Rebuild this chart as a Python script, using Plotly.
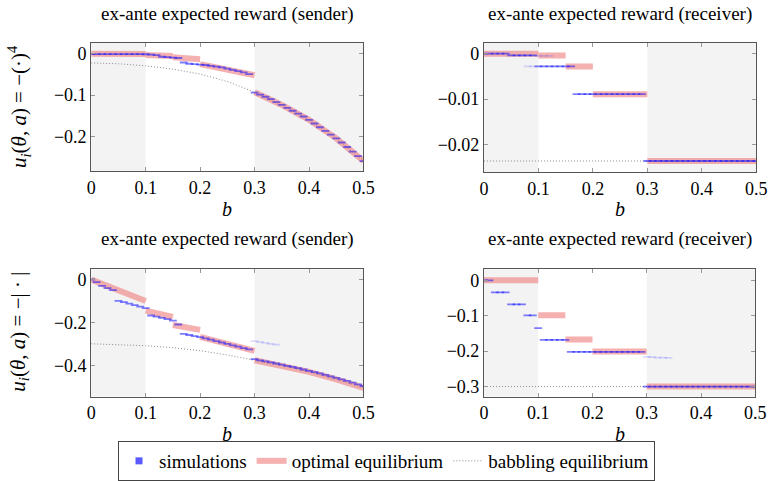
import plotly.graph_objects as go

# ---------------- data ----------------
b_grid = [0.00, 0.01, 0.02, 0.03, 0.04, 0.05, 0.06, 0.07, 0.08, 0.09,
          0.10, 0.11, 0.12, 0.13, 0.14, 0.15, 0.16, 0.17, 0.18, 0.19,
          0.20, 0.21, 0.22, 0.23, 0.24, 0.25, 0.26, 0.27, 0.28, 0.29,
          0.30, 0.31, 0.32, 0.33, 0.34, 0.35, 0.36, 0.37, 0.38, 0.39,
          0.40, 0.41, 0.42, 0.43, 0.44, 0.45, 0.46, 0.47, 0.48, 0.49, 0.50]
b_babble = [0.0, 0.05, 0.1, 0.15, 0.2, 0.25, 0.3, 0.35, 0.4, 0.45, 0.5]
x_ticks = [0, 0.1, 0.2, 0.3, 0.4, 0.5]

tl_sim = [-0.0005, -0.0005, -0.0005, -0.0005, -0.0005, -0.0005, -0.0005, -0.0005, -0.0005, -0.0005,
          -0.001, -0.002, -0.003, -0.007, -0.008, -0.009, -0.010, -0.021, -0.024, -0.025,
          -0.026, -0.027, -0.029, -0.031, -0.033, -0.036, -0.039, -0.042, -0.045, -0.049,
          -0.094, -0.099, -0.104, -0.110, -0.117, -0.124, -0.131, -0.138, -0.145, -0.152,
          -0.160, -0.169, -0.178, -0.187, -0.196, -0.205, -0.215, -0.226, -0.237, -0.248, -0.260]
tl_opt_b = [0, 0.1, None, 0.1, 0.15, None, 0.15, 0.2, None, 0.2, 0.25, 0.3, None, 0.3, 0.35, 0.4, 0.45, 0.5]
tl_opt_v = [0, -0.0005, None, -0.003, -0.005, None, -0.008, -0.013, None, -0.025, -0.037, -0.052, None,
            -0.093, -0.124, -0.160, -0.205, -0.260]
tl_babble = [-0.022, -0.024, -0.029, -0.037, -0.049, -0.067, -0.093, -0.124, -0.160, -0.205, -0.260]
tl_faint_b = []
tl_faint_v = []
tl_yticks = [0, -0.1, -0.2]

tr_sim = [0, 0, 0, 0, 0,
          -0.0004, -0.0004, -0.0004, -0.0004, -0.0004,
          -0.0028, -0.0028, -0.0028, -0.0028, -0.0028, -0.0028, -0.0028,
          -0.0089, -0.0089, -0.0089, -0.0089, -0.0089, -0.0089, -0.0089, -0.0089, -0.0089, -0.0089,
          -0.0089, -0.0089, -0.0089,
          -0.0236, -0.0236, -0.0236, -0.0236, -0.0236, -0.0236, -0.0236, -0.0236, -0.0236, -0.0236,
          -0.0236, -0.0236, -0.0236, -0.0236, -0.0236, -0.0236, -0.0236, -0.0236, -0.0236, -0.0236, -0.0236]
tr_opt_b = [0, 0.1, None, 0.1, 0.15, None, 0.15, 0.2, None, 0.2, 0.3, None, 0.3, 0.5]
tr_opt_v = [0, 0, None, -0.0004, -0.0004, None, -0.0028, -0.0028, None, -0.0089, -0.0089, None, -0.0236, -0.0236]
tr_babble_b = [0, 0.5]
tr_babble = [-0.0236, -0.0236]
tr_faint_b = [0.08, 0.09, 0.10, 0.11, 0.12]
tr_faint_v = [-0.0028, -0.0028, -0.0005, -0.0005, -0.0005]
tr_yticks = [0, -0.01, -0.02]

bl_sim = [0.000, -0.012, -0.030, -0.040, -0.050, -0.100, -0.106, -0.113, -0.120, -0.127,
          -0.134, -0.168, -0.173, -0.179, -0.185, -0.192, -0.210, -0.254, -0.259, -0.264,
          -0.269, -0.275, -0.281, -0.288, -0.294, -0.300, -0.307, -0.313, -0.320, -0.326,
          -0.372, -0.377, -0.382, -0.387, -0.392, -0.397, -0.403, -0.408, -0.414, -0.420,
          -0.426, -0.432, -0.438, -0.445, -0.452, -0.459, -0.466, -0.473, -0.481, -0.489, -0.497]
bl_opt_b = [0, 0.1, None, 0.1, 0.15, None, 0.15, 0.2, None, 0.2, 0.3, None, 0.3, 0.35, 0.4, 0.45, 0.5]
bl_opt_v = [0, -0.100, None, -0.145, -0.175, None, -0.212, -0.235, None, -0.268, -0.333, None,
            -0.377, -0.402, -0.431, -0.466, -0.506]
bl_babble = [-0.300, -0.303, -0.309, -0.318, -0.332, -0.352, -0.377, -0.402, -0.431, -0.466, -0.506]
bl_faint_b = [0.30, 0.31, 0.32, 0.33, 0.34]
bl_faint_v = [-0.288, -0.292, -0.296, -0.300, -0.304]
bl_yticks = [0, -0.2, -0.4]

br_sim = [0, 0, -0.034, -0.034, -0.034, -0.068, -0.068, -0.068, -0.099, -0.099,
          -0.135, -0.168, -0.168, -0.168, -0.168, -0.168,
          -0.202, -0.202, -0.202, -0.202, -0.202, -0.202, -0.202, -0.202, -0.202, -0.202,
          -0.202, -0.202, -0.202, -0.202,
          -0.300, -0.300, -0.300, -0.300, -0.300, -0.300, -0.300, -0.300, -0.300, -0.300,
          -0.300, -0.300, -0.300, -0.300, -0.300, -0.300, -0.300, -0.300, -0.300, -0.300, -0.300]
br_opt_b = [0, 0.1, None, 0.1, 0.15, None, 0.15, 0.2, None, 0.2, 0.3, None, 0.3, 0.5]
br_opt_v = [0, 0, None, -0.099, -0.099, None, -0.167, -0.167, None, -0.201, -0.201, None, -0.300, -0.300]
br_babble_b = [0, 0.5]
br_babble = [-0.300, -0.300]
br_faint_b = [0.30, 0.31, 0.32, 0.33, 0.34]
br_faint_v = [-0.216, -0.217, -0.218, -0.218, -0.219]
br_yticks = [0, -0.1, -0.2, -0.3]

title_sender = "ex-ante expected reward (sender)"
title_receiver = "ex-ante expected reward (receiver)"
ylab_top = "<i>u<sub>i</sub></i>(<i>θ</i>, <i>a</i>) = −(·)<sup>4</sup>"
ylab_bot = "<i>u<sub>i</sub></i>(<i>θ</i>, <i>a</i>) = −| · |"
legend_names = ["simulations", "optimal equilibrium", "babbling equilibrium"]

# ---------------- styling ----------------
W, H = 779, 481
FONT = "Liberation Serif"
TICK_SIZE = 18
RED = "rgba(236,112,112,0.55)"
BLUE = "rgba(20,20,255,0.55)"
BLUE_FAINT = "rgba(60,60,255,0.18)"
GRAY = "#8a8a8a"
SHADE = "#f3f3f3"

panels = [
    ("x", "y", 88, 366, 43, 172, [-0.284, 0.027], tl_sim, tl_opt_b, tl_opt_v, b_babble, tl_babble, tl_faint_b, tl_faint_v, tl_yticks),
    ("x2", "y2", 489, 767, 43, 173, [-0.0260, 0.0024], tr_sim, tr_opt_b, tr_opt_v, tr_babble_b, tr_babble, tr_faint_b, tr_faint_v, tr_yticks),
    ("x3", "y3", 88, 366, 271, 399, [-0.546, 0.0475], bl_sim, bl_opt_b, bl_opt_v, b_babble, bl_babble, bl_faint_b, bl_faint_v, bl_yticks),
    ("x4", "y4", 489, 766, 271, 399, [-0.328, 0.031], br_sim, br_opt_b, br_opt_v, br_babble_b, br_babble, br_faint_b, br_faint_v, br_yticks),
]

fig = go.Figure()
shapes = []
axis_specs = []
for (xa, ya, l, r, t, bt, yr, sim, ob, ov, bb, bv, fb, fv, yt) in panels:
    fig.add_trace(go.Scatter(x=bb, y=bv, xaxis=xa, yaxis=ya, mode="lines",
                             line=dict(color=GRAY, width=1, dash="1px,2px"), showlegend=False, hoverinfo="skip"))
    fig.add_trace(go.Scatter(x=ob, y=ov, xaxis=xa, yaxis=ya, mode="lines",
                             line=dict(color=RED, width=6), showlegend=False, connectgaps=False, hoverinfo="skip"))
    if fb:
        fig.add_trace(go.Scatter(x=fb, y=fv, xaxis=xa, yaxis=ya, mode="markers",
                                 marker=dict(symbol="line-ew", size=5.6, line=dict(color=BLUE_FAINT, width=1.8)),
                                 showlegend=False, hoverinfo="skip"))
    fig.add_trace(go.Scatter(x=b_grid, y=sim, xaxis=xa, yaxis=ya, mode="markers",
                             marker=dict(symbol="line-ew", size=5.6, line=dict(color=BLUE, width=1.8)),
                             showlegend=False, hoverinfo="skip"))
    axis_specs.append((xa, ya, l, r, t, bt, yr, yt))
    for x0, x1 in [(0, 0.1), (0.3, 0.5)]:
        shapes.append(dict(type="rect", xref=xa, yref=ya + " domain", x0=x0, x1=x1, y0=0, y1=1,
                           fillcolor=SHADE, line=dict(width=0), layer="below"))

fig.add_trace(go.Scatter(x=[None], y=[None], mode="markers", name=legend_names[0],
                         marker=dict(symbol="square", size=7, color="rgba(60,60,255,0.85)")))
fig.add_trace(go.Scatter(x=[None], y=[None], mode="lines", name=legend_names[1],
                         line=dict(color=RED, width=6)))
fig.add_trace(go.Scatter(x=[None], y=[None], mode="lines", name=legend_names[2],
                         line=dict(color=GRAY, width=1, dash="1px,2px")))

annotations = []
def ann(text, x, y, size=14, angle=0):
    annotations.append(dict(text=text, x=x, y=y, xref="paper", yref="paper", showarrow=False,
                            xanchor="center", yanchor="middle", textangle=angle,
                            font=dict(family=FONT, size=size, color="black")))

ann(title_sender, 227 / W, 1 - 14 / H, size=19)
ann(title_receiver, 628 / W, 1 - 14 / H, size=19)
ann(title_sender, 227 / W, 1 - 241 / H, size=19)
ann(title_receiver, 628 / W, 1 - 241 / H, size=19)
for cx in (227, 628):
    ann("<i>b</i>", cx / W, 1 - 210 / H, size=20)
    ann("<i>b</i>", cx / W, 1 - 437 / H, size=20)
ann(ylab_top, 14 / W, 1 - 107 / H, size=21, angle=-90)
ann(ylab_bot, 14 / W, 1 - 334 / H, size=21, angle=-90)

fig.update_layout(
    width=W, height=H,
    margin=dict(l=0, r=0, t=0, b=0),
    font=dict(family=FONT, size=17, color="black"),
    plot_bgcolor="white", paper_bgcolor="white",
    showlegend=True,
    legend=dict(orientation="h", x=0.5, xanchor="center", y=1 - 464 / H, yanchor="middle",
                bordercolor="#444444", borderwidth=1, bgcolor="white",
                font=dict(family=FONT, size=19, color="black")),
    shapes=shapes,
    annotations=annotations,
)

for (xa, ya, l, r, t, bt, yr, yt) in axis_specs:
    fig.update_layout({
        "xaxis" + xa[1:]: dict(domain=[l / W, r / W], range=[0, 0.5], anchor=ya,
                               tickmode="array", tickvals=x_ticks,
                               showline=True, linecolor="#555555", linewidth=1, mirror="allticks",
                               ticks="inside", ticklen=4, tickcolor="#999999", tickwidth=1,
                               showgrid=False, zeroline=False,
                               tickfont=dict(family=FONT, size=TICK_SIZE, color="black")),
        "yaxis" + ya[1:]: dict(domain=[1 - bt / H, 1 - t / H], range=yr, anchor=xa,
                               tickmode="array", tickvals=yt,
                               showline=True, linecolor="#555555", linewidth=1, mirror="allticks",
                               ticks="inside", ticklen=4, tickcolor="#999999", tickwidth=1,
                               showgrid=False, zeroline=False,
                               tickfont=dict(family=FONT, size=TICK_SIZE, color="black")),
    })

fig.write_html("out.html")
